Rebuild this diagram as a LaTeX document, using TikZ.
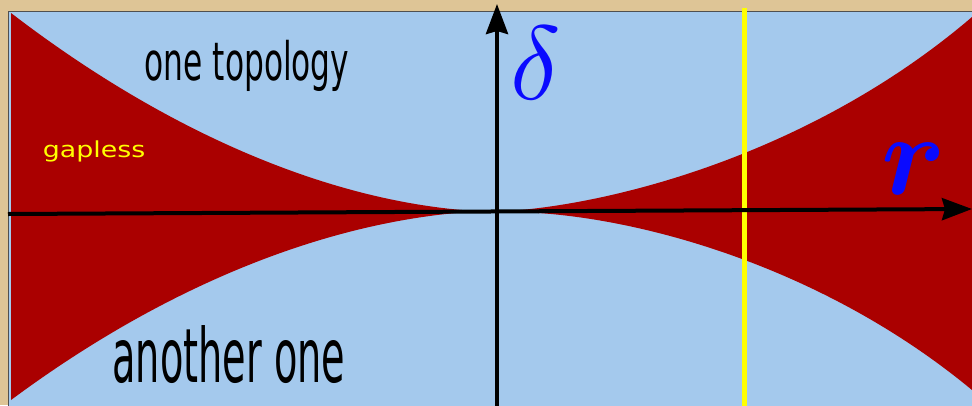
\documentclass[tikz,border=0pt]{standalone}
\usepackage{fontspec}
\usepackage{graphicx}
\usetikzlibrary{arrows.meta}
\newfontfamily\dvsans{DejaVu Sans}
\definecolor{tanbg}{RGB}{222,197,150}
\definecolor{skyblue}{RGB}{164,201,237}
\definecolor{darkred}{RGB}{170,0,0}
\definecolor{framegray}{RGB}{80,80,80}
\definecolor{labelblue}{RGB}{10,10,255}
\begin{document}
\begin{tikzpicture}[x=1pt,y=-1pt,
  axis/.style={line width=4pt,-{Stealth[length=30pt,width=22pt,inset=3pt]}},
  yline/.style={line width=4.3pt,draw={rgb,255:red,255;green,255;blue,0}},
  horn/.style={fill=darkred},
  lbl/.style={anchor=base,inner sep=0pt}]
\fill[tanbg] (0,0) rectangle (972,405);
\useasboundingbox (0,0) rectangle (972,405);
\filldraw[fill=skyblue,draw=framegray,line width=1.5pt] (8.7,11.7) rectangle (985,415);
% left horn
\fill[horn] (11,13) .. controls (170,135) and (330,200) .. (468,210.5)
  -- (468,212) .. controls (330,222) and (170,282) .. (11,400) -- cycle;
% right horn
\fill[horn] (515,210.5) .. controls (630,201) and (820,147) .. (972,17)
  -- (975,17) -- (975,390) -- (972,390)
  .. controls (820,264) and (630,214) .. (515,212) -- cycle;
% yellow line
\coordinate (ytop) at (744.5,8);
\coordinate (ybot) at (744.5,406);
\draw[yline] (ytop) -- (ybot);
% axes
\coordinate (xl) at (8,214);
\coordinate (xr) at (972,209);
\draw[axis] (xl) -- (xr);
\coordinate (vb) at (497,406);
\coordinate (vt) at (497,4);
\draw[axis] (vb) -- (vt);
% labels
\node[lbl] (t1) at (247,80) {\scalebox{0.59}[1]{\fontsize{53}{53}\selectfont\dvsans one topology}};
\node[lbl] (t2) at (229,382) {\scalebox{0.51}[1]{\fontsize{75}{75}\selectfont\dvsans another one}};
\node[lbl,text={rgb,255:red,255;green,255;blue,0}] (t3) at (94,157) {\scalebox{1.22}[1]{\fontsize{22}{22}\selectfont\dvsans gapless}};
\node[lbl,text=labelblue] (d) at (536,99) {\scalebox{10.5}{$\delta$}};
\node[lbl,text=labelblue] (r) at (914,194) {\scalebox{11.5}{\boldmath$r$}};
\end{tikzpicture}
\end{document}
